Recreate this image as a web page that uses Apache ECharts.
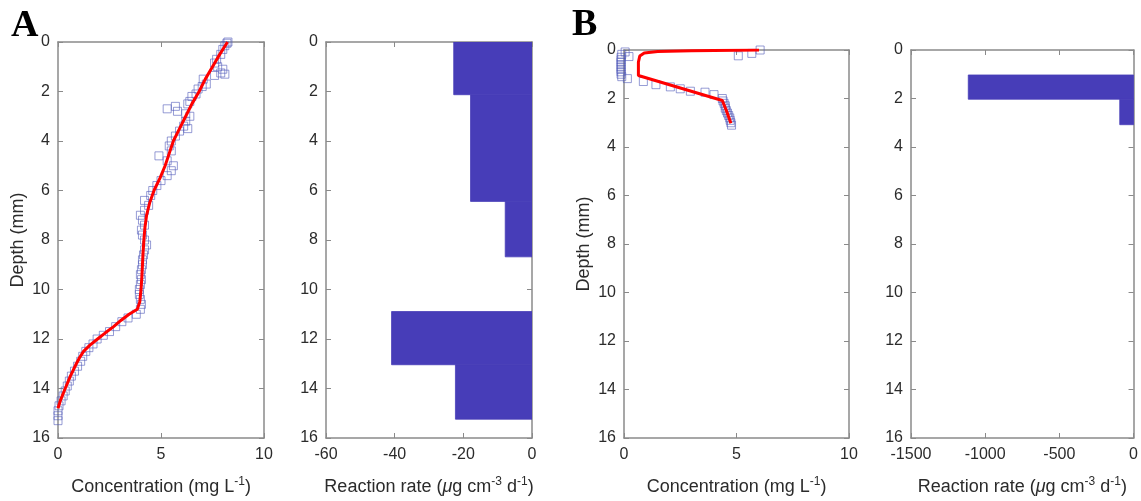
<!DOCTYPE html>
<html>
<head>
<meta charset="utf-8">
<script src="https://cdn.jsdelivr.net/npm/echarts@6/dist/echarts.min.js"></script>
<style>html,body{margin:0;padding:0;background:#fff}#c{width:1141px;height:501px}</style>
</head>
<body>
<div id="c"></div>
<script>
// ---------- DATA ----------
// Panel A: measured concentration (mg L-1) vs depth (mm)
const aObs = [
  [8.25,0],[8.2,0.05],[8.1,0.15],[8.0,0.3],[7.9,0.5],[7.7,0.7],[7.6,0.85],[7.75,1.0],[8.0,1.1],[8.1,1.3],[7.9,1.25],[7.6,1.35],
  [7.05,1.5],[7.2,1.7],[7.0,1.8],[6.8,1.9],[6.7,2.1],[6.5,2.2],[6.4,2.4],[6.3,2.5],[5.3,2.7],[5.7,2.6],[5.8,2.8],
  [6.2,2.9],[6.4,3.0],[6.2,3.2],[6.1,3.4],[6.3,3.5],[5.9,3.6],[5.7,3.8],[5.5,4.0],[5.4,4.2],[5.5,4.4],[4.9,4.6],
  [5.3,4.8],[5.6,5.0],[5.5,5.2],[5.3,5.4],[5.0,5.6],[4.8,5.8],[4.6,6.0],[4.5,6.2],[4.2,6.4],[4.4,6.6],[4.2,6.8],
  [4.0,7.0],[4.1,7.2],[4.2,7.4],[4.05,7.6],[4.1,7.8],[4.2,8.0],[4.3,8.2],[4.2,8.4],[4.15,8.6],[4.1,8.8],[4.1,9.0],
  [4.05,9.2],[4.0,9.4],[4.05,9.6],[4.0,9.8],[3.95,10.0],[3.95,10.2],[4.0,10.4],[4.05,10.6],[4.0,10.8],[3.8,11.0],
  [3.4,11.15],[3.1,11.3],[2.8,11.5],[2.5,11.7],[2.2,11.85],[1.9,12.0],[1.7,12.2],[1.5,12.35],[1.35,12.5],[1.2,12.7],
  [1.1,12.9],[0.95,13.1],[0.8,13.3],[0.65,13.5],[0.55,13.7],[0.45,13.9],[0.35,14.1],[0.25,14.3],[0.15,14.5],
  [0.05,14.7],[0,14.9],[0,15.1],[0,15.3]
];
// Panel A: model fit
const aFit = [
  [8.23,0],[7.85,0.5],[7.5,1],[7.15,1.5],[6.85,2],[6.5,2.5],[6.2,3],[5.9,3.5],[5.6,4],[5.4,4.5],[5.2,5],[4.95,5.5],
  [4.66,6],[4.45,6.5],[4.3,7],[4.22,7.5],[4.17,8],[4.13,8.5],[4.1,9],[4.07,9.5],[4.03,10],[3.97,10.5],[3.85,10.8],
  [3.45,11],[3.05,11.25],[2.7,11.5],[2.3,11.75],[1.92,12],[1.55,12.25],[1.24,12.5],[1.05,12.75],[0.89,13],
  [0.6,13.5],[0.35,14],[0.11,14.5],[0,14.8]
];
// Panel A: reaction rate zones [depthTop, depthBottom, rate (µg cm-3 d-1)]
const aRate = [
  [0,2.13,-22.8],[2.13,6.44,-17.9],[6.44,8.68,-7.8],[10.89,13.04,-40.9],[13.04,15.24,-22.3]
];
// Panel B: measured concentration vs depth
const bObs = [
  [6.05,0],[5.68,0.14],[5.08,0.24],[0.05,0.08],[-0.1,0.18],[0.22,0.27],[-0.13,0.3],[-0.13,0.4],[-0.13,0.5],[-0.13,0.6],
  [-0.13,0.7],[-0.13,0.8],[-0.13,0.9],[-0.13,1.0],[-0.1,1.1],[0.15,1.18],[0.86,1.3],[1.42,1.43],[2.06,1.52],[2.5,1.6],
  [2.95,1.7],[3.6,1.74],[4.0,1.84],[4.37,2.0],[4.4,2.1],[4.45,2.2],[4.5,2.3],[4.5,2.4],[4.55,2.5],[4.6,2.6],
  [4.65,2.7],[4.7,2.8],[4.72,2.9],[4.75,3.0],[4.78,3.1]
];
// Panel B: model fit
const bFit = [
  [6.0,0],[3.0,0.03],[1.5,0.06],[0.9,0.12],[0.7,0.25],[0.64,0.5],[0.64,1.05],[4.37,2.08],[4.55,2.5],[4.75,3.02]
];
// Panel B: reaction rate zones
const bRate = [[1.03,2.03,-1114],[2.03,3.08,-93]];

const depthTicks = {min:0, max:16, interval:2};
const concTicks = {min:0, max:10, interval:5};
const rateATicks = {min:-60, max:0, interval:20};
const rateBTicks = {min:-1500, max:0, interval:500};

// ---------- STYLE / LAYOUT ----------
const FONT = '"Liberation Sans", Arial, sans-serif';
const TXT = '#2b2b2b';
const AX = '#8a8a8a';
const BAR = '#473db8';
const grids = [
  {left:58, top:42, width:206, height:398},
  {left:326, top:42, width:206, height:398},
  {left:624, top:50, width:225, height:390},
  {left:911, top:50, width:227, height:390}
];
const xTicks = [concTicks, rateATicks, concTicks, rateBTicks];
const richName = {
  t:{fontSize:18, fontFamily:FONT, color:TXT, lineHeight:22},
  m:{fontSize:18, fontFamily:FONT, color:TXT, lineHeight:22, fontStyle:'italic'},
  s:{fontSize:12, fontFamily:FONT, color:TXT, lineHeight:12, verticalAlign:'top'}
};
const xNames = [
  '{t|Concentration (mg L}{s|-1}{t|)}',
  '{t|Reaction rate (}{m|μ}{t|g cm}{s|-3}{t| d}{s|-1}{t|)}',
  '{t|Concentration (mg L}{s|-1}{t|)}',
  '{t|Reaction rate (}{m|μ}{t|g cm}{s|-3}{t| d}{s|-1}{t|)}'
];
const axLine = {show:true, onZero:false, lineStyle:{color:AX, width:1.5}};
const tickIn = {show:true, inside:true, length:5, lineStyle:{color:AX, width:1}};
const fmt = v => String(v);
const lbl = {fontSize:16, fontFamily:FONT, color:TXT, formatter:fmt};

const xAxis = [], yAxis = [];
grids.forEach((g, i) => {
  const xt = xTicks[i];
  xAxis.push({type:'value', gridIndex:i, position:'bottom', min:xt.min, max:xt.max, interval:xt.interval,
    axisLine:axLine, axisTick:tickIn, splitLine:{show:false},
    axisLabel:Object.assign({margin:9, showMinLabel:true, showMaxLabel:true}, lbl),
    name:xNames[i], nameLocation:'middle', nameGap:38, nameTextStyle:{rich:richName}});
  xAxis.push({type:'value', gridIndex:i, position:'top', min:xt.min, max:xt.max, interval:xt.interval,
    axisLine:axLine, axisTick:tickIn, splitLine:{show:false}, axisLabel:{show:false}});
  yAxis.push({type:'value', gridIndex:i, position:'left', inverse:true,
    min:depthTicks.min, max:depthTicks.max, interval:depthTicks.interval,
    axisLine:axLine, axisTick:tickIn, splitLine:{show:false},
    axisLabel:Object.assign({margin:8, showMinLabel:true, showMaxLabel:true}, lbl),
    name:(i % 2 === 0) ? 'Depth (mm)' : '', nameLocation:'middle', nameRotate:90, nameGap:31,
    nameTextStyle:{fontSize:18, fontFamily:FONT, color:TXT}});
  yAxis.push({type:'value', gridIndex:i, position:'right', inverse:true,
    min:depthTicks.min, max:depthTicks.max, interval:depthTicks.interval,
    axisLine:axLine, axisTick:tickIn, splitLine:{show:false}, axisLabel:{show:false}});
});

function rateSeries(data, gi) {
  return {
    type:'custom', xAxisIndex:gi*2, yAxisIndex:gi*2, data:data, clip:true,
    encode:{x:2, y:[0,1]},
    renderItem:function(params, api){
      const pTop = api.coord([api.value(2), api.value(0)]);
      const pBot = api.coord([0, api.value(1)]);
      return {type:'rect', shape:{x:pTop[0], y:pTop[1], width:pBot[0]-pTop[0], height:pBot[1]-pTop[1]},
        style:{fill:BAR, stroke:BAR, lineWidth:0.8}};
    }
  };
}
function obsSeries(data, gi) {
  return {type:'scatter', xAxisIndex:gi*2, yAxisIndex:gi*2, data:data, symbol:'rect', symbolSize:8, clip:false,
    itemStyle:{color:'rgba(255,255,255,0)', borderColor:'rgba(80,90,185,0.75)', borderWidth:1}, z:2};
}
function fitSeries(data, gi) {
  return {type:'line', xAxisIndex:gi*2, yAxisIndex:gi*2, data:data, showSymbol:false, symbol:'none',
    lineStyle:{color:'#ff0000', width:3}, z:3, animation:false};
}

const option = {
  animation:false,
  grid:grids,
  xAxis:xAxis,
  yAxis:yAxis,
  graphic:[
    {type:'text', x:11, y:26, style:{text:'A', font:'bold 38px "Liberation Serif", "Times New Roman", serif', fill:'#000', verticalAlign:'middle'}},
    {type:'text', x:572, y:25, style:{text:'B', font:'bold 38px "Liberation Serif", "Times New Roman", serif', fill:'#000', verticalAlign:'middle'}}
  ],
  series:[
    obsSeries(aObs, 0), fitSeries(aFit, 0),
    rateSeries(aRate, 1),
    obsSeries(bObs, 2), fitSeries(bFit, 2),
    rateSeries(bRate, 3)
  ]
};
const chart = echarts.init(document.getElementById('c'), null, {renderer:'canvas'});
chart.setOption(option);
</script>
</body>
</html>
